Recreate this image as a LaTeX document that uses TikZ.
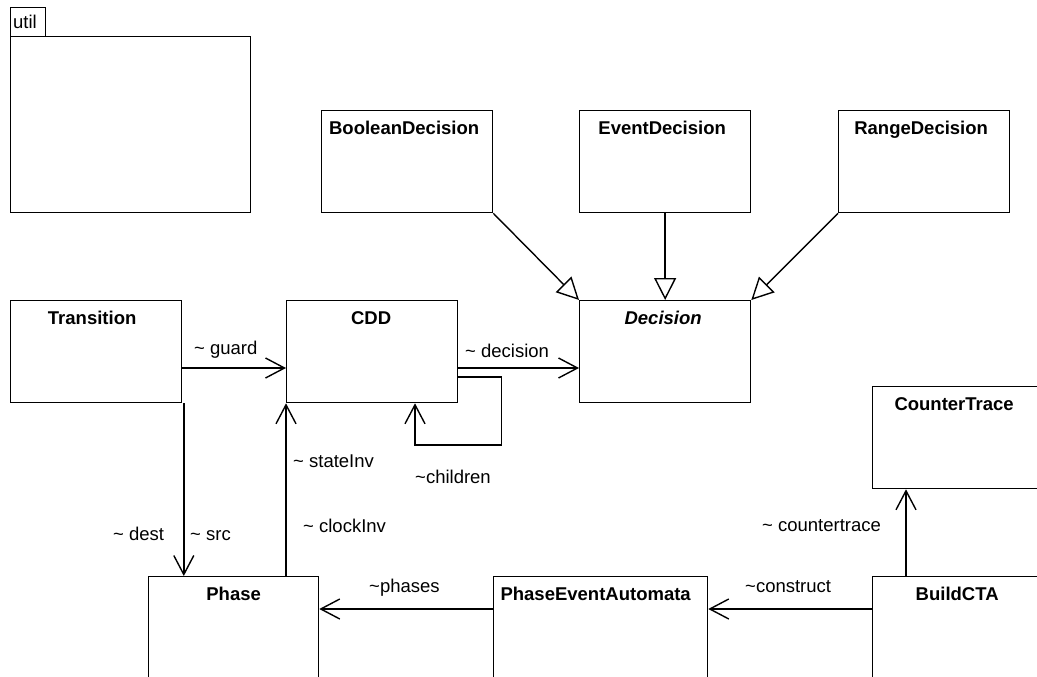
\documentclass[tikz,border=0pt]{standalone}
\usepackage{fontspec}
\setmainfont{Liberation Sans}
\usetikzlibrary{arrows.meta,calc}

\tikzset{
  cls/.style={draw, line width=1.3pt, rectangle, inner sep=0pt, anchor=north west, minimum width=171pt, minimum height=102pt},
  clsname/.style={anchor=base, inner sep=0pt, font=\fontsize{18.5}{22}\selectfont\bfseries},
  lbl/.style={anchor=base west, inner sep=0pt, font=\fontsize{18.5}{22}\selectfont},
  conn/.style={line width=1.6pt, -{Straight Barb[length=19pt,width=20pt,line width=1.4pt]}},
  gen/.style={line width=1.4pt, -{Triangle[open,length=22pt,width=22pt,line width=1.4pt]}}
}

\begin{document}
\begin{tikzpicture}[x=1pt,y=-1pt]
  \useasboundingbox (0,0) rectangle (1037,677);
  \clip (0,0) rectangle (1037,677);
  \fill[white] (0,0) rectangle (1037,677);

  % package util
  \node[draw, line width=1.3pt, inner sep=0pt, anchor=north west, minimum width=35pt, minimum height=29pt] (utiltab) at (10,7) {};
  \node[lbl] (utilname) at (13,29) {util};
  \node[draw, line width=1.3pt, inner sep=0pt, anchor=north west, minimum width=240pt, minimum height=176pt] (util) at (10,36) {};

  % classes
  \node[cls] (bool) at (321,110) {};
  \node[cls] (event) at (579,110) {};
  \node[cls] (range) at (838,110) {};
  \node[cls] (trans) at (10,300) {};
  \node[cls] (cdd) at (286,300) {};
  \node[cls] (dec) at (579,300) {};
  \node[cls] (ct) at (872,386) {};
  \node[cls, minimum width=170pt] (phase) at (148,576) {};
  \node[cls, minimum width=214pt] (pea) at (493,576) {};
  \node[cls] (cta) at (872,576) {};

  % class names
  \node[clsname] (boolname) at ([yshift=-24pt,xshift=-3pt]bool.north) {BooleanDecision};
  \node[clsname] (eventname) at ([yshift=-24pt,xshift=-3pt]event.north) {EventDecision};
  \node[clsname] (rangename) at ([yshift=-24pt,xshift=-3pt]range.north) {RangeDecision};
  \node[clsname] (transname) at ([yshift=-24pt,xshift=-4pt]trans.north) {Transition};
  \node[clsname] (cddname) at ([yshift=-24pt,xshift=-1pt]cdd.north) {CDD};
  \node[clsname, font=\fontsize{18.5}{22}\selectfont\bfseries\itshape] (decname) at ([yshift=-24pt,xshift=-2pt]dec.north) {Decision};
  \node[clsname] (ctname) at ([yshift=-24pt,xshift=-4pt]ct.north) {CounterTrace};
  \node[clsname] (phasename) at ([yshift=-24pt]phase.north) {Phase};
  \node[clsname] (peaname) at ([yshift=-24pt,xshift=-5pt]pea.north) {PhaseEventAutomata};
  \node[clsname] (ctaname) at ([yshift=-24pt,xshift=-1pt]cta.north) {BuildCTA};

  % generalizations
  \draw[gen] (bool.south east) -- (dec.north west);
  \draw[gen] (event.south) -- (dec.north);
  \draw[gen] (range.south west) -- (dec.north east);

  % associations
  \draw[conn] ([yshift=-68pt]trans.north east) -- ([yshift=-68pt]cdd.north west);
  \draw[conn] ([yshift=-68pt]cdd.north east) -- ([yshift=-68pt]dec.north west);
  \draw[conn] ([yshift=-77pt]cdd.north east) -- ++(43,0) -- ++(0,68) -| ([xshift=129pt]cdd.south west);
  \draw[conn] ([xshift=1.5pt]trans.south east) -- ([xshift=1.5pt]trans.south east |- phase.north);
  \draw[conn] (cdd.south west |- phase.north) -- (cdd.south west);
  \draw[conn] ([yshift=-33pt]pea.north west) -- ([yshift=-33pt]phase.north east);
  \draw[conn] ([yshift=-33pt]cta.north west) -- ([yshift=-33pt]pea.north east);
  \draw[conn] ([xshift=34pt]cta.north west) -- ([xshift=34pt]ct.south west);

  % role labels
  \node[lbl] (lguard) at (194,354) {\textasciitilde{} guard};
  \node[lbl] (ldecision) at (465,357) {\textasciitilde{} decision};
  \node[lbl] (lstate) at (293,467) {\textasciitilde{} stateInv};
  \node[lbl] (lchildren) at (415,483) {\textasciitilde children};
  \node[lbl] (ldest) at (113,540) {\textasciitilde{} dest};
  \node[lbl] (lsrc) at (190,540) {\textasciitilde{} src};
  \node[lbl] (lclock) at (303,532) {\textasciitilde{} clockInv};
  \node[lbl] (lphases) at (369,592) {\textasciitilde phases};
  \node[lbl] (lconstruct) at (745,592) {\textasciitilde construct};
  \node[lbl] (lct) at (762,531) {\textasciitilde{} countertrace};
\end{tikzpicture}
\end{document}
